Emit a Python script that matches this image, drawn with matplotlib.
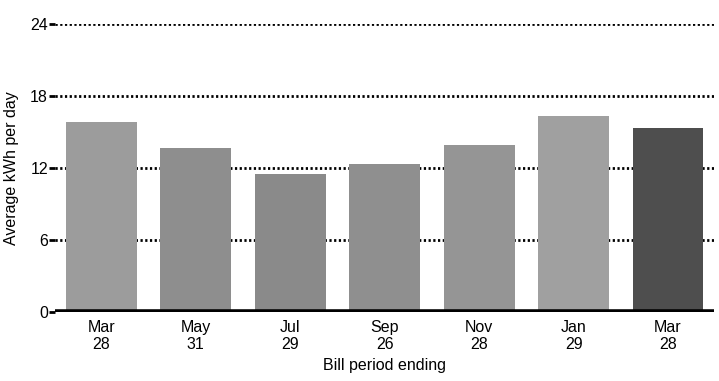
import matplotlib.pyplot as plt

# bill periods and average daily usage
months = ["Mar", "May", "Jul", "Sep", "Nov", "Jan", "Mar"]
days = ["28", "31", "29", "26", "28", "29", "28"]
kwh_per_day = [15.8, 13.7, 11.5, 12.3, 13.9, 16.3, 15.3]
bar_colors = ["#9c9c9c", "#8e8e8e", "#8a8a8a", "#8f8f8f", "#959595", "#a0a0a0", "#4e4e4e"]
y_ticks = [0, 6, 12, 18, 24]

plt.rcParams["font.family"] = ["Liberation Sans", "DejaVu Sans"]

fig = plt.figure(figsize=(7.19, 3.81), dpi=100)
ax = fig.add_axes([0.0765, 0.181, 0.917, 0.756])

x = range(len(months))
ax.bar(x, kwh_per_day, width=0.75, color=bar_colors, zorder=3)

for t in y_ticks[1:]:
    ax.axhline(t, color="black", linestyle=(0, (0.8, 0.9)), linewidth=2.0, zorder=1)
ax.axhline(0, color="black", linewidth=4, zorder=4)

ax.set_xlim(-0.49, 6.49)
ax.set_ylim(0, 24)
ax.set_yticks(y_ticks)
ax.set_yticklabels([str(t) for t in y_ticks], fontsize=11.5)
ax.tick_params(axis="y", length=4, width=2, pad=1)
ax.set_xticks(list(x))
ax.set_xticklabels([f"{m}\n{d}" for m, d in zip(months, days)], fontsize=11.5, linespacing=1.15)
ax.tick_params(axis="x", length=0, pad=6)

for s in ax.spines.values():
    s.set_visible(False)

ax.set_ylabel("Average kWh per day", fontsize=11.5, labelpad=8)
ax.set_xlabel("Bill period ending", fontsize=11.5, labelpad=4)

fig.savefig("out.png", dpi=100)
